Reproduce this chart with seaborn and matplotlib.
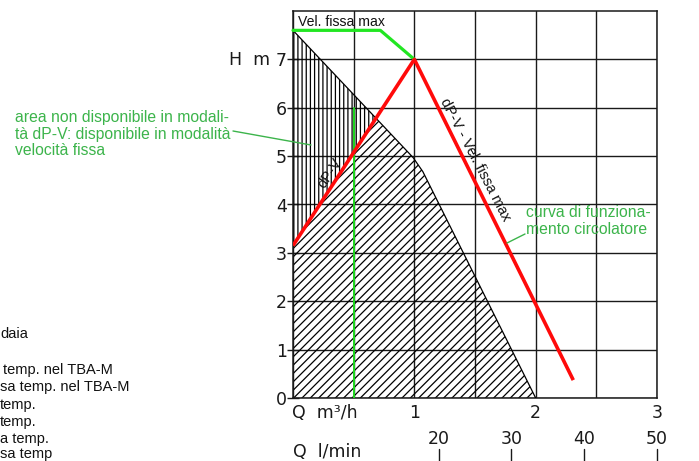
import numpy as np
import pandas as pd
import matplotlib
matplotlib.use("Agg")
import matplotlib.pyplot as plt
import matplotlib.transforms as mtransforms
import seaborn as sns

# ---------------- data ----------------
# working curve of the circulator (dP-V, then Vel. fissa max)
red_q = [0.0, 1.0, 2.31]
red_h = [3.15, 7.0, 0.37]
# fixed-speed max curve
green_q = [0.0, 0.72, 1.0]
green_h = [7.6, 7.6, 7.0]
# vertical green reference line
fix_q = [0.5, 0.5]
fix_h = [0.0, 6.0]
# limit of the available area (black boundary)
limit_q = [0.0, 0.99, 1.07, 2.0]
limit_h = [7.6, 4.97, 4.68, 0.0]
# axis ticks
y_ticks = [0, 1, 2, 3, 4, 5, 6, 7]
y_labels = ["0", "1", "2", "3", "4", "5", "6", "7"]
x_ticks = [0, 0.5, 1, 1.5, 2, 2.5, 3]
x_labels = ["", "", "1", "", "2", "", "3"]
lmin_ticks = [20, 30, 40, 50]
# cut-off legend lines on the left
left_texts = ["daia", "temp. nel TBA-M", "sa temp. nel TBA-M", "temp.", "temp.", "a temp.", "sa temp"]
left_x_px = [0, 3, 0, 0, 0, 0, 0]
left_y_px = [334, 370, 387, 405, 422, 439, 454]

W, H = 699, 461
sns.set_theme(style="white")
plt.rcParams["font.family"] = ["DejaVu Sans"]
plt.rcParams["hatch.linewidth"] = 0.9

fig = plt.figure(figsize=(W / 100, H / 100), dpi=100)
ax = fig.add_axes([293 / W, 1 - 398 / H, (657 - 293) / W, (398 - 11) / H])

def fx(px):
    return px / W

def fy(py):
    return 1 - py / H

ax.set_xlim(0, 3)
ax.set_ylim(0, 8)
ax.set_xticks(x_ticks)
ax.set_xticklabels(x_labels)
ax.set_yticks(y_ticks)
ax.set_yticklabels(y_labels)
ax.grid(True, color="#1a1a1a", linewidth=1.0)
ax.set_axisbelow(True)
for s in ax.spines.values():
    s.set_color("#1a1a1a")
    s.set_linewidth(1.1)
ax.tick_params(axis="x", length=0, pad=4, labelsize=12.5, colors="#1a1a1a")
ax.tick_params(axis="y", direction="inout", length=9, width=1, pad=0, labelsize=12.5, colors="#1a1a1a", left=True)

# ---------------- hatched areas ----------------
xg = np.linspace(0, 2.0, 801)
red_rise = np.interp(xg, red_q[:2], red_h[:2])
lim = np.interp(xg, limit_q, limit_h)
upper = np.minimum(red_rise, lim)
ax.fill_between(xg, 0, upper, facecolor="none", edgecolor="black", linewidth=0, hatch="////", zorder=2)
mask = red_rise <= lim
ax.fill_between(xg[mask], red_rise[mask], lim[mask], facecolor="none", edgecolor="black",
                linewidth=0, hatch="||||", zorder=2)

# boundary line
df_lim = pd.DataFrame({"Q": limit_q, "H": limit_h})
sns.lineplot(data=df_lim, x="Q", y="H", sort=False, estimator=None, color="black", linewidth=0.9, ax=ax, zorder=3)

# green lines
df_fix = pd.DataFrame({"Q": fix_q, "H": fix_h})
sns.lineplot(data=df_fix, x="Q", y="H", sort=False, estimator=None, color="#1ed81e", linewidth=1.4, ax=ax, zorder=4)
df_green = pd.DataFrame({"Q": green_q, "H": green_h})
sns.lineplot(data=df_green, x="Q", y="H", sort=False, estimator=None, color="#22e622", linewidth=2.3,
             ax=ax, zorder=5, clip_on=False)
# red working curve
df_red = pd.DataFrame({"Q": red_q, "H": red_h})
sns.lineplot(data=df_red, x="Q", y="H", sort=False, estimator=None, color="#ff0a0a", linewidth=2.6,
             ax=ax, zorder=6, solid_capstyle="butt")
ax.set_xlabel("")
ax.set_ylabel("")

# ---------------- texts ----------------
arial = ["Liberation Sans", "DejaVu Sans"]
txtgreen = "#3cb44b"
ax.text(0.04, 7.78, "Vel. fissa max", fontsize=10.1, family=arial, color="#111111", va="center", ha="left", zorder=7)
fig.text(fx(475), fy(160), "dP-V - Vel. fissa max", fontsize=10.5, family=arial, color="#111111",
         rotation=-62.4, rotation_mode="anchor", ha="center", va="center")
fig.text(fx(330), fy(173), "dP-V", fontsize=10.5, family=arial, color="#111111",
         rotation=57, rotation_mode="anchor", ha="center", va="center")

fig.text(fx(15), fy(134), "area non disponibile in modali-\ntà dP-V: disponibile in modalità\nvelocità fissa",
         fontsize=11.3, family=arial, color=txtgreen, ha="left", va="center", linespacing=1.12)
fig.text(fx(526), fy(221), "curva di funziona-\nmento circolatore",
         fontsize=11.3, family=arial, color=txtgreen, ha="left", va="center", linespacing=1.12)
# leader lines (figure pixel coordinates)
fig.add_artist(plt.Line2D([fx(233), fx(311)], [fy(131), fy(145)], color=txtgreen, linewidth=1.0))
fig.add_artist(plt.Line2D([fx(525), fx(507)], [fy(234), fy(243)], color=txtgreen, linewidth=1.0))

# axis titles
fig.text(fx(270), fy(60), "H  m", fontsize=12.5, color="#1a1a1a", ha="right", va="center")
fig.text(fx(292), fy(413), "Q  m³/h", fontsize=12.5, color="#1a1a1a", ha="left", va="center")
fig.text(fx(293), fy(452), "Q  l/min", fontsize=12.5, color="#1a1a1a", ha="left", va="center")

# l/min scale (1 m3/h = 1000/60 l/min)
trans = mtransforms.blended_transform_factory(ax.transData, fig.transFigure)
for v in lmin_ticks:
    q = v * 60.0 / 1000.0
    t = plt.Text(q, fy(439), str(v), fontsize=12.5, color="#1a1a1a", ha="center", va="center", transform=trans)
    fig.add_artist(t)
    fig.add_artist(plt.Line2D([q, q], [fy(449), fy(461)], color="#1a1a1a", linewidth=1.0, transform=trans))

# cut-off legend text at the left
for s, xl, yc in zip(left_texts, left_x_px, left_y_px):
    fig.text(fx(xl), fy(yc), s, fontsize=10.5, family=arial, color="#111111", ha="left", va="center")

fig.savefig("out.png", dpi=100)
